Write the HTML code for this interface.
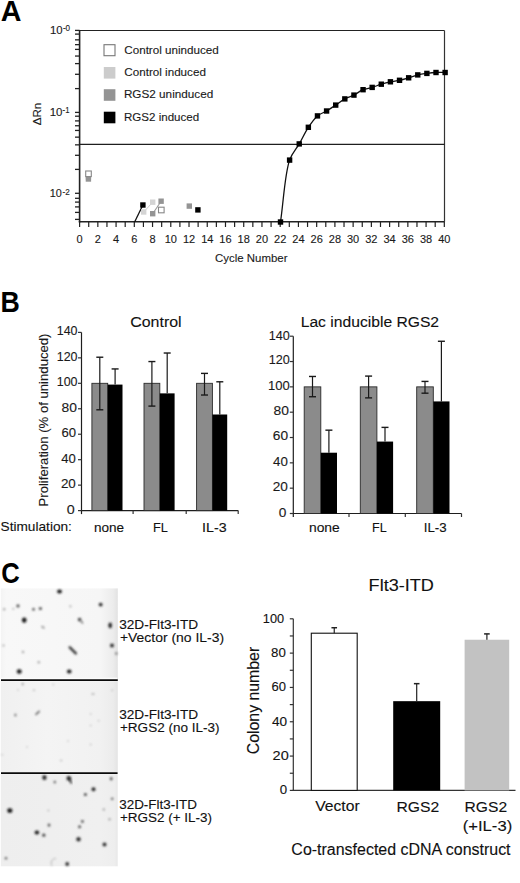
<!DOCTYPE html>
<html><head><meta charset="utf-8"><style>
html,body{margin:0;padding:0;background:#fff;}
svg{display:block;font-family:"Liberation Sans", sans-serif;}
</style></head><body>
<svg width="520" height="883" viewBox="0 0 520 883">
<defs></defs>
<rect width="520" height="883" fill="#fff"/>
<g>
<text x="0.73" y="21.20" font-size="28.8" font-weight="bold" fill="#000" stroke="#000" stroke-width="0" textLength="20.70" lengthAdjust="spacingAndGlyphs">A</text>
<line x1="79.60" y1="30.50" x2="444.50" y2="30.50" stroke="#222" stroke-width="1.0"/>
<line x1="444.50" y1="30.50" x2="444.50" y2="221.80" stroke="#333" stroke-width="1.2"/>
<line x1="79.60" y1="30.00" x2="79.60" y2="222.40" stroke="#222" stroke-width="1.6"/>
<line x1="78.80" y1="221.80" x2="444.50" y2="221.80" stroke="#222" stroke-width="1.5"/>
<line x1="75.00" y1="30.40" x2="79.60" y2="30.40" stroke="#222" stroke-width="1.3"/>
<line x1="75.00" y1="34.10" x2="79.60" y2="34.10" stroke="#222" stroke-width="1.3"/>
<line x1="75.00" y1="39.85" x2="79.60" y2="39.85" stroke="#222" stroke-width="1.3"/>
<line x1="75.00" y1="44.65" x2="79.60" y2="44.65" stroke="#222" stroke-width="1.3"/>
<line x1="75.00" y1="49.40" x2="79.60" y2="49.40" stroke="#222" stroke-width="1.3"/>
<line x1="75.00" y1="56.05" x2="79.60" y2="56.05" stroke="#222" stroke-width="1.3"/>
<line x1="75.00" y1="63.60" x2="79.60" y2="63.60" stroke="#222" stroke-width="1.3"/>
<line x1="75.00" y1="74.30" x2="79.60" y2="74.30" stroke="#222" stroke-width="1.3"/>
<line x1="75.00" y1="88.60" x2="79.60" y2="88.60" stroke="#222" stroke-width="1.3"/>
<line x1="75.00" y1="112.40" x2="79.60" y2="112.40" stroke="#222" stroke-width="1.3"/>
<line x1="75.00" y1="116.20" x2="79.60" y2="116.20" stroke="#222" stroke-width="1.3"/>
<line x1="75.00" y1="120.90" x2="79.60" y2="120.90" stroke="#222" stroke-width="1.3"/>
<line x1="75.00" y1="125.75" x2="79.60" y2="125.75" stroke="#222" stroke-width="1.3"/>
<line x1="75.00" y1="130.45" x2="79.60" y2="130.45" stroke="#222" stroke-width="1.3"/>
<line x1="75.00" y1="137.15" x2="79.60" y2="137.15" stroke="#222" stroke-width="1.3"/>
<line x1="75.00" y1="144.85" x2="79.60" y2="144.85" stroke="#222" stroke-width="1.3"/>
<line x1="75.00" y1="155.30" x2="79.60" y2="155.30" stroke="#222" stroke-width="1.3"/>
<line x1="75.00" y1="169.40" x2="79.60" y2="169.40" stroke="#222" stroke-width="1.3"/>
<line x1="75.00" y1="193.30" x2="79.60" y2="193.30" stroke="#222" stroke-width="1.3"/>
<line x1="75.00" y1="198.30" x2="79.60" y2="198.30" stroke="#222" stroke-width="1.3"/>
<line x1="75.00" y1="202.10" x2="79.60" y2="202.10" stroke="#222" stroke-width="1.3"/>
<line x1="75.00" y1="206.90" x2="79.60" y2="206.90" stroke="#222" stroke-width="1.3"/>
<line x1="75.00" y1="212.40" x2="79.60" y2="212.40" stroke="#222" stroke-width="1.3"/>
<line x1="75.00" y1="219.40" x2="79.60" y2="219.40" stroke="#222" stroke-width="1.3"/>
<line x1="79.60" y1="221.80" x2="79.60" y2="227.00" stroke="#222" stroke-width="1.2"/>
<text x="79.6" y="242.8" font-size="11" text-anchor="middle" font-weight="normal" fill="#1a1a1a" stroke="#1a1a1a" stroke-width="0.12" >0</text>
<line x1="88.72" y1="221.80" x2="88.72" y2="227.00" stroke="#222" stroke-width="1.2"/>
<line x1="97.84" y1="221.80" x2="97.84" y2="227.00" stroke="#222" stroke-width="1.2"/>
<text x="97.836" y="242.8" font-size="11" text-anchor="middle" font-weight="normal" fill="#1a1a1a" stroke="#1a1a1a" stroke-width="0.12" >2</text>
<line x1="106.95" y1="221.80" x2="106.95" y2="227.00" stroke="#222" stroke-width="1.2"/>
<line x1="116.07" y1="221.80" x2="116.07" y2="227.00" stroke="#222" stroke-width="1.2"/>
<text x="116.072" y="242.8" font-size="11" text-anchor="middle" font-weight="normal" fill="#1a1a1a" stroke="#1a1a1a" stroke-width="0.12" >4</text>
<line x1="125.19" y1="221.80" x2="125.19" y2="227.00" stroke="#222" stroke-width="1.2"/>
<line x1="134.31" y1="221.80" x2="134.31" y2="227.00" stroke="#222" stroke-width="1.2"/>
<text x="134.308" y="242.8" font-size="11" text-anchor="middle" font-weight="normal" fill="#1a1a1a" stroke="#1a1a1a" stroke-width="0.12" >6</text>
<line x1="143.43" y1="221.80" x2="143.43" y2="227.00" stroke="#222" stroke-width="1.2"/>
<line x1="152.54" y1="221.80" x2="152.54" y2="227.00" stroke="#222" stroke-width="1.2"/>
<text x="152.54399999999998" y="242.8" font-size="11" text-anchor="middle" font-weight="normal" fill="#1a1a1a" stroke="#1a1a1a" stroke-width="0.12" >8</text>
<line x1="161.66" y1="221.80" x2="161.66" y2="227.00" stroke="#222" stroke-width="1.2"/>
<line x1="170.78" y1="221.80" x2="170.78" y2="227.00" stroke="#222" stroke-width="1.2"/>
<text x="170.78" y="242.8" font-size="11" text-anchor="middle" font-weight="normal" fill="#1a1a1a" stroke="#1a1a1a" stroke-width="0.12" >10</text>
<line x1="179.90" y1="221.80" x2="179.90" y2="227.00" stroke="#222" stroke-width="1.2"/>
<line x1="189.02" y1="221.80" x2="189.02" y2="227.00" stroke="#222" stroke-width="1.2"/>
<text x="189.016" y="242.8" font-size="11" text-anchor="middle" font-weight="normal" fill="#1a1a1a" stroke="#1a1a1a" stroke-width="0.12" >12</text>
<line x1="198.13" y1="221.80" x2="198.13" y2="227.00" stroke="#222" stroke-width="1.2"/>
<line x1="207.25" y1="221.80" x2="207.25" y2="227.00" stroke="#222" stroke-width="1.2"/>
<text x="207.252" y="242.8" font-size="11" text-anchor="middle" font-weight="normal" fill="#1a1a1a" stroke="#1a1a1a" stroke-width="0.12" >14</text>
<line x1="216.37" y1="221.80" x2="216.37" y2="227.00" stroke="#222" stroke-width="1.2"/>
<line x1="225.49" y1="221.80" x2="225.49" y2="227.00" stroke="#222" stroke-width="1.2"/>
<text x="225.488" y="242.8" font-size="11" text-anchor="middle" font-weight="normal" fill="#1a1a1a" stroke="#1a1a1a" stroke-width="0.12" >16</text>
<line x1="234.61" y1="221.80" x2="234.61" y2="227.00" stroke="#222" stroke-width="1.2"/>
<line x1="243.72" y1="221.80" x2="243.72" y2="227.00" stroke="#222" stroke-width="1.2"/>
<text x="243.724" y="242.8" font-size="11" text-anchor="middle" font-weight="normal" fill="#1a1a1a" stroke="#1a1a1a" stroke-width="0.12" >18</text>
<line x1="252.84" y1="221.80" x2="252.84" y2="227.00" stroke="#222" stroke-width="1.2"/>
<line x1="261.96" y1="221.80" x2="261.96" y2="227.00" stroke="#222" stroke-width="1.2"/>
<text x="261.96000000000004" y="242.8" font-size="11" text-anchor="middle" font-weight="normal" fill="#1a1a1a" stroke="#1a1a1a" stroke-width="0.12" >20</text>
<line x1="271.08" y1="221.80" x2="271.08" y2="227.00" stroke="#222" stroke-width="1.2"/>
<line x1="280.20" y1="221.80" x2="280.20" y2="227.00" stroke="#222" stroke-width="1.2"/>
<text x="280.196" y="242.8" font-size="11" text-anchor="middle" font-weight="normal" fill="#1a1a1a" stroke="#1a1a1a" stroke-width="0.12" >22</text>
<line x1="289.31" y1="221.80" x2="289.31" y2="227.00" stroke="#222" stroke-width="1.2"/>
<line x1="298.43" y1="221.80" x2="298.43" y2="227.00" stroke="#222" stroke-width="1.2"/>
<text x="298.432" y="242.8" font-size="11" text-anchor="middle" font-weight="normal" fill="#1a1a1a" stroke="#1a1a1a" stroke-width="0.12" >24</text>
<line x1="307.55" y1="221.80" x2="307.55" y2="227.00" stroke="#222" stroke-width="1.2"/>
<line x1="316.67" y1="221.80" x2="316.67" y2="227.00" stroke="#222" stroke-width="1.2"/>
<text x="316.668" y="242.8" font-size="11" text-anchor="middle" font-weight="normal" fill="#1a1a1a" stroke="#1a1a1a" stroke-width="0.12" >26</text>
<line x1="325.79" y1="221.80" x2="325.79" y2="227.00" stroke="#222" stroke-width="1.2"/>
<line x1="334.90" y1="221.80" x2="334.90" y2="227.00" stroke="#222" stroke-width="1.2"/>
<text x="334.904" y="242.8" font-size="11" text-anchor="middle" font-weight="normal" fill="#1a1a1a" stroke="#1a1a1a" stroke-width="0.12" >28</text>
<line x1="344.02" y1="221.80" x2="344.02" y2="227.00" stroke="#222" stroke-width="1.2"/>
<line x1="353.14" y1="221.80" x2="353.14" y2="227.00" stroke="#222" stroke-width="1.2"/>
<text x="353.14" y="242.8" font-size="11" text-anchor="middle" font-weight="normal" fill="#1a1a1a" stroke="#1a1a1a" stroke-width="0.12" >30</text>
<line x1="362.26" y1="221.80" x2="362.26" y2="227.00" stroke="#222" stroke-width="1.2"/>
<line x1="371.38" y1="221.80" x2="371.38" y2="227.00" stroke="#222" stroke-width="1.2"/>
<text x="371.376" y="242.8" font-size="11" text-anchor="middle" font-weight="normal" fill="#1a1a1a" stroke="#1a1a1a" stroke-width="0.12" >32</text>
<line x1="380.49" y1="221.80" x2="380.49" y2="227.00" stroke="#222" stroke-width="1.2"/>
<line x1="389.61" y1="221.80" x2="389.61" y2="227.00" stroke="#222" stroke-width="1.2"/>
<text x="389.61199999999997" y="242.8" font-size="11" text-anchor="middle" font-weight="normal" fill="#1a1a1a" stroke="#1a1a1a" stroke-width="0.12" >34</text>
<line x1="398.73" y1="221.80" x2="398.73" y2="227.00" stroke="#222" stroke-width="1.2"/>
<line x1="407.85" y1="221.80" x2="407.85" y2="227.00" stroke="#222" stroke-width="1.2"/>
<text x="407.84799999999996" y="242.8" font-size="11" text-anchor="middle" font-weight="normal" fill="#1a1a1a" stroke="#1a1a1a" stroke-width="0.12" >36</text>
<line x1="416.97" y1="221.80" x2="416.97" y2="227.00" stroke="#222" stroke-width="1.2"/>
<line x1="426.08" y1="221.80" x2="426.08" y2="227.00" stroke="#222" stroke-width="1.2"/>
<text x="426.08400000000006" y="242.8" font-size="11" text-anchor="middle" font-weight="normal" fill="#1a1a1a" stroke="#1a1a1a" stroke-width="0.12" >38</text>
<line x1="435.20" y1="221.80" x2="435.20" y2="227.00" stroke="#222" stroke-width="1.2"/>
<line x1="444.32" y1="221.80" x2="444.32" y2="227.00" stroke="#222" stroke-width="1.2"/>
<text x="444.32000000000005" y="242.8" font-size="11" text-anchor="middle" font-weight="normal" fill="#1a1a1a" stroke="#1a1a1a" stroke-width="0.12" >40</text>
<text x="215.08" y="261.90" font-size="11.6" font-weight="normal" fill="#1a1a1a" stroke="#1a1a1a" stroke-width="0.12" textLength="72.40" lengthAdjust="spacingAndGlyphs">Cycle Number</text>
<text x="50.00" y="34.00" font-size="10.8" font-weight="normal" fill="#1a1a1a" stroke="#1a1a1a" stroke-width="0.12" textLength="12.63" lengthAdjust="spacingAndGlyphs">10</text>
<text x="62.89" y="31.30" font-size="8.5" font-weight="normal" fill="#1a1a1a" stroke="#1a1a1a" stroke-width="0.12" textLength="7.18" lengthAdjust="spacingAndGlyphs">-0</text>
<text x="49.69" y="116.00" font-size="10.8" font-weight="normal" fill="#1a1a1a" stroke="#1a1a1a" stroke-width="0.12" textLength="12.74" lengthAdjust="spacingAndGlyphs">10</text>
<text x="62.60" y="113.00" font-size="8.5" font-weight="normal" fill="#1a1a1a" stroke="#1a1a1a" stroke-width="0.12" textLength="6.93" lengthAdjust="spacingAndGlyphs">-1</text>
<text x="49.74" y="197.30" font-size="10.8" font-weight="normal" fill="#1a1a1a" stroke="#1a1a1a" stroke-width="0.12" textLength="12.07" lengthAdjust="spacingAndGlyphs">10</text>
<text x="62.58" y="195.20" font-size="8.5" font-weight="normal" fill="#1a1a1a" stroke="#1a1a1a" stroke-width="0.12" textLength="7.27" lengthAdjust="spacingAndGlyphs">-2</text>
<text transform="translate(40.90,125.30) rotate(-90)" x="0" y="0" font-size="10.8" font-weight="normal" fill="#1a1a1a" stroke="#1a1a1a" stroke-width="0.12" textLength="22.51" lengthAdjust="spacingAndGlyphs">ΔRn</text>
<line x1="79.60" y1="144.40" x2="444.50" y2="144.40" stroke="#1e1e1e" stroke-width="1.1"/>
<rect x="104.00" y="44.70" width="11.00" height="11.00" fill="#fff" stroke="#777" stroke-width="1.1"/>
<text x="124.27" y="53.90" font-size="11.6" font-weight="normal" fill="#1a1a1a" stroke="#1a1a1a" stroke-width="0.12" textLength="94.56" lengthAdjust="spacingAndGlyphs">Control uninduced</text>
<rect x="103.80" y="67.00" width="11.60" height="11.60" fill="#cccccc" stroke="none" stroke-width="0"/>
<text x="124.27" y="76.30" font-size="11.6" font-weight="normal" fill="#1a1a1a" stroke="#1a1a1a" stroke-width="0.12" textLength="81.64" lengthAdjust="spacingAndGlyphs">Control induced</text>
<rect x="103.80" y="89.20" width="11.60" height="11.60" fill="#949494" stroke="none" stroke-width="0"/>
<text x="123.91" y="98.20" font-size="11.6" font-weight="normal" fill="#1a1a1a" stroke="#1a1a1a" stroke-width="0.12" textLength="89.32" lengthAdjust="spacingAndGlyphs">RGS2 uninduced</text>
<rect x="103.80" y="111.70" width="11.60" height="11.60" fill="#000" stroke="none" stroke-width="0"/>
<text x="123.92" y="121.10" font-size="11.6" font-weight="normal" fill="#1a1a1a" stroke="#1a1a1a" stroke-width="0.12" textLength="75.27" lengthAdjust="spacingAndGlyphs">RGS2 induced</text>
<path d="M280.50,222.00 C283.54,201.37 284.76,173.76 289.61,160.10 C292.27,152.60 296.11,149.36 299.23,143.90 C302.36,138.43 305.09,132.19 308.35,127.30 C311.22,123.01 314.12,118.69 317.47,115.90 C320.29,113.55 323.58,112.77 326.59,111.00 C329.66,109.18 332.68,107.11 335.70,105.10 C338.75,103.08 341.69,100.59 344.82,98.90 C347.78,97.30 350.95,96.60 353.94,95.10 C357.03,93.55 359.92,90.99 363.06,89.70 C366.01,88.48 369.16,88.31 372.18,87.40 C375.24,86.48 378.24,85.14 381.29,84.20 C384.31,83.27 387.36,82.45 390.41,81.80 C393.44,81.15 396.51,80.96 399.53,80.30 C402.59,79.63 405.62,78.70 408.65,77.80 C411.70,76.90 414.70,75.64 417.77,74.90 C420.78,74.18 423.84,73.80 426.88,73.40 C429.92,73.00 432.96,72.65 436.00,72.50 C439.04,72.35 442.08,72.50 445.12,72.50" fill="none" stroke="#111" stroke-width="1.3"/>
<line x1="134.60" y1="222.00" x2="142.90" y2="205.00" stroke="#111" stroke-width="1.3"/>
<line x1="143.70" y1="212.00" x2="152.70" y2="202.20" stroke="#d0d0d0" stroke-width="1.0"/>
<line x1="152.70" y1="213.70" x2="161.10" y2="201.20" stroke="#999" stroke-width="1.1"/>
<rect x="85.70" y="174.30" width="5.40" height="5.40" fill="#d4d4d4" stroke="none" stroke-width="0"/>
<rect x="141.00" y="209.30" width="5.40" height="5.40" fill="#d4d4d4" stroke="none" stroke-width="0"/>
<rect x="150.00" y="199.50" width="5.40" height="5.40" fill="#d4d4d4" stroke="none" stroke-width="0"/>
<rect x="85.70" y="176.30" width="5.40" height="5.40" fill="#949494" stroke="none" stroke-width="0"/>
<rect x="150.00" y="211.00" width="5.40" height="5.40" fill="#949494" stroke="none" stroke-width="0"/>
<rect x="158.40" y="198.50" width="5.40" height="5.40" fill="#949494" stroke="none" stroke-width="0"/>
<rect x="186.60" y="203.40" width="5.40" height="5.40" fill="#949494" stroke="none" stroke-width="0"/>
<rect x="85.70" y="171.00" width="5.60" height="5.60" fill="#fff" stroke="#888" stroke-width="1.1"/>
<rect x="158.50" y="207.20" width="5.60" height="5.60" fill="#fff" stroke="#888" stroke-width="1.1"/>
<rect x="140.20" y="202.30" width="5.40" height="5.40" fill="#000" stroke="none" stroke-width="0"/>
<rect x="195.20" y="207.20" width="5.40" height="5.40" fill="#000" stroke="none" stroke-width="0"/>
<rect x="277.80" y="219.30" width="5.40" height="5.40" fill="#000" stroke="none" stroke-width="0"/>
<rect x="286.91" y="157.40" width="5.40" height="5.40" fill="#000" stroke="none" stroke-width="0"/>
<rect x="296.53" y="141.20" width="5.40" height="5.40" fill="#000" stroke="none" stroke-width="0"/>
<rect x="305.65" y="124.60" width="5.40" height="5.40" fill="#000" stroke="none" stroke-width="0"/>
<rect x="314.77" y="113.20" width="5.40" height="5.40" fill="#000" stroke="none" stroke-width="0"/>
<rect x="323.89" y="108.30" width="5.40" height="5.40" fill="#000" stroke="none" stroke-width="0"/>
<rect x="333.00" y="102.40" width="5.40" height="5.40" fill="#000" stroke="none" stroke-width="0"/>
<rect x="342.12" y="96.20" width="5.40" height="5.40" fill="#000" stroke="none" stroke-width="0"/>
<rect x="351.24" y="92.40" width="5.40" height="5.40" fill="#000" stroke="none" stroke-width="0"/>
<rect x="360.36" y="87.00" width="5.40" height="5.40" fill="#000" stroke="none" stroke-width="0"/>
<rect x="369.48" y="84.70" width="5.40" height="5.40" fill="#000" stroke="none" stroke-width="0"/>
<rect x="378.59" y="81.50" width="5.40" height="5.40" fill="#000" stroke="none" stroke-width="0"/>
<rect x="387.71" y="79.10" width="5.40" height="5.40" fill="#000" stroke="none" stroke-width="0"/>
<rect x="396.83" y="77.60" width="5.40" height="5.40" fill="#000" stroke="none" stroke-width="0"/>
<rect x="405.95" y="75.10" width="5.40" height="5.40" fill="#000" stroke="none" stroke-width="0"/>
<rect x="415.07" y="72.20" width="5.40" height="5.40" fill="#000" stroke="none" stroke-width="0"/>
<rect x="424.18" y="70.70" width="5.40" height="5.40" fill="#000" stroke="none" stroke-width="0"/>
<rect x="433.30" y="69.80" width="5.40" height="5.40" fill="#000" stroke="none" stroke-width="0"/>
<rect x="442.42" y="69.80" width="5.40" height="5.40" fill="#000" stroke="none" stroke-width="0"/>
<text x="0.51" y="311.50" font-size="29.5" font-weight="bold" fill="#000" stroke="#000" stroke-width="0" textLength="19.30" lengthAdjust="spacingAndGlyphs">B</text>
<line x1="81.50" y1="332.40" x2="81.50" y2="514.10" stroke="#1e1e1e" stroke-width="1.2"/>
<line x1="80.90" y1="510.60" x2="238.20" y2="510.60" stroke="#1e1e1e" stroke-width="1.2"/>
<line x1="78.00" y1="510.60" x2="81.50" y2="510.60" stroke="#333" stroke-width="1.2"/>
<line x1="78.00" y1="485.14" x2="81.50" y2="485.14" stroke="#333" stroke-width="1.2"/>
<line x1="78.00" y1="459.69" x2="81.50" y2="459.69" stroke="#333" stroke-width="1.2"/>
<line x1="78.00" y1="434.23" x2="81.50" y2="434.23" stroke="#333" stroke-width="1.2"/>
<line x1="78.00" y1="408.77" x2="81.50" y2="408.77" stroke="#333" stroke-width="1.2"/>
<line x1="78.00" y1="383.31" x2="81.50" y2="383.31" stroke="#333" stroke-width="1.2"/>
<line x1="78.00" y1="357.86" x2="81.50" y2="357.86" stroke="#333" stroke-width="1.2"/>
<line x1="78.00" y1="332.40" x2="81.50" y2="332.40" stroke="#333" stroke-width="1.2"/>
<text x="56.72" y="335.30" font-size="13.5" font-weight="normal" fill="#1a1a1a" stroke="#1a1a1a" stroke-width="0.12" textLength="20.78" lengthAdjust="spacingAndGlyphs">140</text>
<text x="56.72" y="360.50" font-size="13.5" font-weight="normal" fill="#1a1a1a" stroke="#1a1a1a" stroke-width="0.12" textLength="20.78" lengthAdjust="spacingAndGlyphs">120</text>
<text x="56.72" y="386.20" font-size="13.5" font-weight="normal" fill="#1a1a1a" stroke="#1a1a1a" stroke-width="0.12" textLength="20.78" lengthAdjust="spacingAndGlyphs">100</text>
<text x="61.53" y="411.70" font-size="13.5" font-weight="normal" fill="#1a1a1a" stroke="#1a1a1a" stroke-width="0.12" textLength="15.41" lengthAdjust="spacingAndGlyphs">80</text>
<text x="61.49" y="437.10" font-size="13.5" font-weight="normal" fill="#1a1a1a" stroke="#1a1a1a" stroke-width="0.12" textLength="14.61" lengthAdjust="spacingAndGlyphs">60</text>
<text x="61.22" y="462.50" font-size="13.5" font-weight="normal" fill="#1a1a1a" stroke="#1a1a1a" stroke-width="0.12" textLength="14.58" lengthAdjust="spacingAndGlyphs">40</text>
<text x="60.88" y="488.00" font-size="13.5" font-weight="normal" fill="#1a1a1a" stroke="#1a1a1a" stroke-width="0.12" textLength="14.94" lengthAdjust="spacingAndGlyphs">20</text>
<text x="66.68" y="513.50" font-size="13.5" font-weight="normal" fill="#1a1a1a" stroke="#1a1a1a" stroke-width="0.12" textLength="7.96" lengthAdjust="spacingAndGlyphs">0</text>
<line x1="133.10" y1="510.60" x2="133.10" y2="514.10" stroke="#333" stroke-width="1.2"/>
<line x1="186.20" y1="510.60" x2="186.20" y2="514.10" stroke="#333" stroke-width="1.2"/>
<line x1="238.20" y1="510.60" x2="238.20" y2="514.10" stroke="#333" stroke-width="1.2"/>
<rect x="91.90" y="383.31" width="15.80" height="127.29" fill="#8b8b8b" stroke="#2a2a2a" stroke-width="0.9"/>
<rect x="107.70" y="384.59" width="14.80" height="126.01" fill="#000" stroke="none" stroke-width="0"/>
<line x1="99.80" y1="357.22" x2="99.80" y2="409.79" stroke="#1a1a1a" stroke-width="1.2"/>
<line x1="96.30" y1="357.22" x2="103.30" y2="357.22" stroke="#1a1a1a" stroke-width="1.4"/>
<line x1="96.30" y1="409.79" x2="103.30" y2="409.79" stroke="#1a1a1a" stroke-width="1.4"/>
<line x1="115.10" y1="368.93" x2="115.10" y2="384.59" stroke="#1a1a1a" stroke-width="1.2"/>
<line x1="111.60" y1="368.93" x2="118.60" y2="368.93" stroke="#1a1a1a" stroke-width="1.4"/>
<rect x="144.00" y="383.31" width="15.80" height="127.29" fill="#8b8b8b" stroke="#2a2a2a" stroke-width="0.9"/>
<rect x="159.80" y="393.37" width="14.80" height="117.23" fill="#000" stroke="none" stroke-width="0"/>
<line x1="151.90" y1="361.55" x2="151.90" y2="406.10" stroke="#1a1a1a" stroke-width="1.2"/>
<line x1="148.40" y1="361.55" x2="155.40" y2="361.55" stroke="#1a1a1a" stroke-width="1.4"/>
<line x1="148.40" y1="406.10" x2="155.40" y2="406.10" stroke="#1a1a1a" stroke-width="1.4"/>
<line x1="167.20" y1="353.02" x2="167.20" y2="393.37" stroke="#1a1a1a" stroke-width="1.2"/>
<line x1="163.70" y1="353.02" x2="170.70" y2="353.02" stroke="#1a1a1a" stroke-width="1.4"/>
<rect x="196.60" y="383.31" width="15.80" height="127.29" fill="#8b8b8b" stroke="#2a2a2a" stroke-width="0.9"/>
<rect x="212.40" y="414.50" width="14.80" height="96.10" fill="#000" stroke="none" stroke-width="0"/>
<line x1="204.50" y1="373.39" x2="204.50" y2="395.02" stroke="#1a1a1a" stroke-width="1.2"/>
<line x1="201.00" y1="373.39" x2="208.00" y2="373.39" stroke="#1a1a1a" stroke-width="1.4"/>
<line x1="201.00" y1="395.02" x2="208.00" y2="395.02" stroke="#1a1a1a" stroke-width="1.4"/>
<line x1="219.80" y1="381.79" x2="219.80" y2="414.50" stroke="#1a1a1a" stroke-width="1.2"/>
<line x1="216.30" y1="381.79" x2="223.30" y2="381.79" stroke="#1a1a1a" stroke-width="1.4"/>
<line x1="293.30" y1="336.20" x2="293.30" y2="517.00" stroke="#1e1e1e" stroke-width="1.2"/>
<line x1="292.70" y1="513.50" x2="461.50" y2="513.50" stroke="#1e1e1e" stroke-width="1.2"/>
<line x1="289.80" y1="513.50" x2="293.30" y2="513.50" stroke="#333" stroke-width="1.2"/>
<line x1="289.80" y1="488.17" x2="293.30" y2="488.17" stroke="#333" stroke-width="1.2"/>
<line x1="289.80" y1="462.84" x2="293.30" y2="462.84" stroke="#333" stroke-width="1.2"/>
<line x1="289.80" y1="437.51" x2="293.30" y2="437.51" stroke="#333" stroke-width="1.2"/>
<line x1="289.80" y1="412.19" x2="293.30" y2="412.19" stroke="#333" stroke-width="1.2"/>
<line x1="289.80" y1="386.86" x2="293.30" y2="386.86" stroke="#333" stroke-width="1.2"/>
<line x1="289.80" y1="361.53" x2="293.30" y2="361.53" stroke="#333" stroke-width="1.2"/>
<line x1="289.80" y1="336.20" x2="293.30" y2="336.20" stroke="#333" stroke-width="1.2"/>
<text x="268.70" y="339.70" font-size="13.5" font-weight="normal" fill="#1a1a1a" stroke="#1a1a1a" stroke-width="0.12" textLength="21.10" lengthAdjust="spacingAndGlyphs">140</text>
<text x="268.70" y="364.00" font-size="13.5" font-weight="normal" fill="#1a1a1a" stroke="#1a1a1a" stroke-width="0.12" textLength="21.10" lengthAdjust="spacingAndGlyphs">120</text>
<text x="268.07" y="389.50" font-size="13.5" font-weight="normal" fill="#1a1a1a" stroke="#1a1a1a" stroke-width="0.12" textLength="21.74" lengthAdjust="spacingAndGlyphs">100</text>
<text x="273.53" y="415.00" font-size="13.5" font-weight="normal" fill="#1a1a1a" stroke="#1a1a1a" stroke-width="0.12" textLength="15.41" lengthAdjust="spacingAndGlyphs">80</text>
<text x="272.86" y="440.40" font-size="13.5" font-weight="normal" fill="#1a1a1a" stroke="#1a1a1a" stroke-width="0.12" textLength="15.27" lengthAdjust="spacingAndGlyphs">60</text>
<text x="273.02" y="465.80" font-size="13.5" font-weight="normal" fill="#1a1a1a" stroke="#1a1a1a" stroke-width="0.12" textLength="14.80" lengthAdjust="spacingAndGlyphs">40</text>
<text x="272.67" y="491.30" font-size="13.5" font-weight="normal" fill="#1a1a1a" stroke="#1a1a1a" stroke-width="0.12" textLength="15.16" lengthAdjust="spacingAndGlyphs">20</text>
<text x="278.70" y="516.80" font-size="13.5" font-weight="normal" fill="#1a1a1a" stroke="#1a1a1a" stroke-width="0.12" textLength="7.61" lengthAdjust="spacingAndGlyphs">0</text>
<line x1="349.00" y1="513.50" x2="349.00" y2="517.00" stroke="#333" stroke-width="1.2"/>
<line x1="405.30" y1="513.50" x2="405.30" y2="517.00" stroke="#333" stroke-width="1.2"/>
<line x1="461.50" y1="513.50" x2="461.50" y2="517.00" stroke="#333" stroke-width="1.2"/>
<rect x="304.20" y="386.86" width="16.60" height="126.64" fill="#8b8b8b" stroke="#2a2a2a" stroke-width="0.9"/>
<rect x="320.80" y="452.71" width="16.20" height="60.79" fill="#000" stroke="none" stroke-width="0"/>
<line x1="312.50" y1="376.47" x2="312.50" y2="396.74" stroke="#1a1a1a" stroke-width="1.2"/>
<line x1="309.00" y1="376.47" x2="316.00" y2="376.47" stroke="#1a1a1a" stroke-width="1.4"/>
<line x1="309.00" y1="396.74" x2="316.00" y2="396.74" stroke="#1a1a1a" stroke-width="1.4"/>
<line x1="328.90" y1="430.17" x2="328.90" y2="452.71" stroke="#1a1a1a" stroke-width="1.2"/>
<line x1="325.40" y1="430.17" x2="332.40" y2="430.17" stroke="#1a1a1a" stroke-width="1.4"/>
<rect x="360.30" y="386.86" width="16.60" height="126.64" fill="#8b8b8b" stroke="#2a2a2a" stroke-width="0.9"/>
<rect x="376.90" y="441.57" width="16.20" height="71.93" fill="#000" stroke="none" stroke-width="0"/>
<line x1="368.60" y1="376.09" x2="368.60" y2="397.88" stroke="#1a1a1a" stroke-width="1.2"/>
<line x1="365.10" y1="376.09" x2="372.10" y2="376.09" stroke="#1a1a1a" stroke-width="1.4"/>
<line x1="365.10" y1="397.88" x2="372.10" y2="397.88" stroke="#1a1a1a" stroke-width="1.4"/>
<line x1="385.00" y1="427.38" x2="385.00" y2="441.57" stroke="#1a1a1a" stroke-width="1.2"/>
<line x1="381.50" y1="427.38" x2="388.50" y2="427.38" stroke="#1a1a1a" stroke-width="1.4"/>
<rect x="416.70" y="386.86" width="16.60" height="126.64" fill="#8b8b8b" stroke="#2a2a2a" stroke-width="0.9"/>
<rect x="433.30" y="401.42" width="16.20" height="112.08" fill="#000" stroke="none" stroke-width="0"/>
<line x1="425.00" y1="381.41" x2="425.00" y2="393.19" stroke="#1a1a1a" stroke-width="1.2"/>
<line x1="421.50" y1="381.41" x2="428.50" y2="381.41" stroke="#1a1a1a" stroke-width="1.4"/>
<line x1="421.50" y1="393.19" x2="428.50" y2="393.19" stroke="#1a1a1a" stroke-width="1.4"/>
<line x1="441.40" y1="341.27" x2="441.40" y2="401.42" stroke="#1a1a1a" stroke-width="1.2"/>
<line x1="437.90" y1="341.27" x2="444.90" y2="341.27" stroke="#1a1a1a" stroke-width="1.4"/>
<text x="130.25" y="326.50" font-size="15.4" font-weight="normal" fill="#111" stroke="#111" stroke-width="0.12" textLength="51.39" lengthAdjust="spacingAndGlyphs">Control</text>
<text x="300.70" y="326.90" font-size="15.4" font-weight="normal" fill="#111" stroke="#111" stroke-width="0.12" textLength="138.39" lengthAdjust="spacingAndGlyphs">Lac inducible RGS2</text>
<text transform="translate(48.40,506.50) rotate(-90)" x="0" y="0" font-size="13.2" font-weight="normal" fill="#1a1a1a" stroke="#1a1a1a" stroke-width="0.12" textLength="172.99" lengthAdjust="spacingAndGlyphs">Proliferation (% of uninduced)</text>
<text x="0.53" y="531.40" font-size="13.4" font-weight="normal" fill="#111" stroke="#111" stroke-width="0.12" textLength="71.41" lengthAdjust="spacingAndGlyphs">Stimulation:</text>
<text x="93.97" y="532.30" font-size="13.4" font-weight="normal" fill="#111" stroke="#111" stroke-width="0.12" textLength="30.19" lengthAdjust="spacingAndGlyphs">none</text>
<text x="153.03" y="532.30" font-size="13.4" font-weight="normal" fill="#111" stroke="#111" stroke-width="0.12" textLength="14.93" lengthAdjust="spacingAndGlyphs">FL</text>
<text x="202.07" y="532.30" font-size="13.4" font-weight="normal" fill="#111" stroke="#111" stroke-width="0.12" textLength="24.57" lengthAdjust="spacingAndGlyphs">IL-3</text>
<text x="308.95" y="532.30" font-size="13.4" font-weight="normal" fill="#111" stroke="#111" stroke-width="0.12" textLength="30.82" lengthAdjust="spacingAndGlyphs">none</text>
<text x="372.04" y="532.30" font-size="13.4" font-weight="normal" fill="#111" stroke="#111" stroke-width="0.12" textLength="14.71" lengthAdjust="spacingAndGlyphs">FL</text>
<text x="423.75" y="532.30" font-size="13.4" font-weight="normal" fill="#111" stroke="#111" stroke-width="0.12" textLength="22.94" lengthAdjust="spacingAndGlyphs">IL-3</text>
<text x="1.22" y="582.50" font-size="29.2" font-weight="bold" fill="#000" stroke="#000" stroke-width="0" textLength="18.52" lengthAdjust="spacingAndGlyphs">C</text>
<defs>
<linearGradient id="pg1" x1="0" x2="1" y1="0" y2="0">
<stop offset="0" stop-color="#f4f4f4"/><stop offset="0.05" stop-color="#f8f8f8"/><stop offset="0.85" stop-color="#f6f6f6"/><stop offset="0.96" stop-color="#ececec"/><stop offset="1" stop-color="#e2e2e2"/>
</linearGradient>
<linearGradient id="pg2" x1="0" x2="1" y1="0" y2="0">
<stop offset="0" stop-color="#f0f0f0"/><stop offset="0.4" stop-color="#f4f4f4"/><stop offset="0.85" stop-color="#f1f1f1"/><stop offset="0.96" stop-color="#ececec"/><stop offset="1" stop-color="#e4e4e4"/>
</linearGradient>
<linearGradient id="pg3" x1="0" x2="1" y1="0" y2="0">
<stop offset="0" stop-color="#eeeeee"/><stop offset="0.85" stop-color="#f0f0f0"/><stop offset="0.97" stop-color="#eeeeee"/><stop offset="1" stop-color="#e8e8e8"/>
</linearGradient>
<filter id="bl" x="-80%" y="-80%" width="260%" height="260%"><feGaussianBlur stdDeviation="0.85"/></filter>
</defs>
<rect x="0.80" y="588.40" width="117.00" height="90.80" fill="url(#pg1)" stroke="none" stroke-width="0"/>
<rect x="0.80" y="681.20" width="117.00" height="91.00" fill="url(#pg2)" stroke="none" stroke-width="0"/>
<rect x="0.80" y="774.10" width="116.90" height="92.20" fill="url(#pg3)" stroke="none" stroke-width="0"/>
<rect x="1.00" y="677.60" width="116.00" height="1.60" fill="#fbfbfb" stroke="none" stroke-width="0"/>
<ellipse cx="59.5" cy="591.4" rx="2.5" ry="2.0" fill="#1e1e1e" filter="url(#bl)"/>
<ellipse cx="18" cy="605.9" rx="1.6" ry="1.6" fill="#555" filter="url(#bl)"/>
<ellipse cx="33.5" cy="609.2" rx="1.5" ry="1.5" fill="#666" filter="url(#bl)"/>
<ellipse cx="40.4" cy="608.5" rx="1.6" ry="1.6" fill="#555" filter="url(#bl)"/>
<ellipse cx="100.7" cy="604.6" rx="1.9" ry="1.9" fill="#2a2a2a" filter="url(#bl)"/>
<ellipse cx="24.2" cy="620.1" rx="2.3" ry="2.7" fill="#1e1e1e" filter="url(#bl)"/>
<ellipse cx="79.6" cy="619.6" rx="1.8" ry="1.8" fill="#444" filter="url(#bl)"/>
<ellipse cx="110.2" cy="625.3" rx="1.8" ry="2.9" fill="#2a2a2a" filter="url(#bl)"/>
<ellipse cx="112" cy="645.5" rx="1.9" ry="2.0" fill="#2a2a2a" filter="url(#bl)"/>
<ellipse cx="19.2" cy="671.5" rx="2.5" ry="2.3" fill="#1e1e1e" filter="url(#bl)"/>
<ellipse cx="69.2" cy="671.5" rx="2.3" ry="2.1" fill="#1e1e1e" filter="url(#bl)"/>
<ellipse cx="23" cy="652" rx="1.3" ry="1.3" fill="#aaa" filter="url(#bl)"/>
<ellipse cx="38.8" cy="662.3" rx="1.3" ry="1.3" fill="#aaa" filter="url(#bl)"/>
<ellipse cx="4.2" cy="609.2" rx="1.2" ry="1.2" fill="#aaa" filter="url(#bl)"/>
<ellipse cx="13.3" cy="608.8" rx="1.1" ry="1.1" fill="#bbb" filter="url(#bl)"/>
<ellipse cx="3.5" cy="645.5" rx="1.2" ry="1.2" fill="#bbb" filter="url(#bl)"/>
<ellipse cx="70.4" cy="606.2" rx="1.2" ry="1.2" fill="#c0c0c0" filter="url(#bl)"/>
<ellipse cx="116.3" cy="653.5" rx="1.2" ry="1.8" fill="#888" filter="url(#bl)"/>
<ellipse cx="43" cy="627.2" rx="1.4" ry="1.0" fill="#bbb" filter="url(#bl)"/>
<path d="M69.8,647.3 L75.8,653.3" stroke="#3a3a3a" stroke-width="2.6" stroke-linecap="round" filter="url(#bl)"/>
<path d="M80.5,620.5 L83,623.5" stroke="#777" stroke-width="1.5" filter="url(#bl)"/>
<path d="M41.5,626 L44.5,628.5" stroke="#aaa" stroke-width="1.5" filter="url(#bl)"/>
<path d="M36,714.3 L39.2,711.3" stroke="#666" stroke-width="1.6" stroke-linecap="round" filter="url(#bl)"/>
<ellipse cx="15.4" cy="715.1" rx="1.1" ry="1.5" fill="#777" filter="url(#bl)"/>
<ellipse cx="22.7" cy="684.1" rx="1.0" ry="1.3" fill="#999" filter="url(#bl)"/>
<ellipse cx="34" cy="690.2" rx="1.2" ry="1.0" fill="#c0c0c0" filter="url(#bl)"/>
<ellipse cx="18" cy="690" rx="1.0" ry="1.0" fill="#ccc" filter="url(#bl)"/>
<ellipse cx="53.3" cy="684.5" rx="1.0" ry="1.0" fill="#ccc" filter="url(#bl)"/>
<ellipse cx="93" cy="694" rx="1.8" ry="0.9" fill="#bbb" filter="url(#bl)"/>
<ellipse cx="112.2" cy="690.2" rx="1.0" ry="1.0" fill="#c4c4c4" filter="url(#bl)"/>
<ellipse cx="90.7" cy="714" rx="1.0" ry="1.0" fill="#ccc" filter="url(#bl)"/>
<ellipse cx="98.6" cy="720.8" rx="1.0" ry="1.0" fill="#c8c8c8" filter="url(#bl)"/>
<ellipse cx="90.7" cy="725.4" rx="1.0" ry="1.0" fill="#ccc" filter="url(#bl)"/>
<ellipse cx="61.2" cy="760.5" rx="1.3" ry="1.0" fill="#c4c4c4" filter="url(#bl)"/>
<ellipse cx="90.7" cy="744.6" rx="1.0" ry="1.0" fill="#c8c8c8" filter="url(#bl)"/>
<ellipse cx="2.3" cy="754.8" rx="1.0" ry="1.0" fill="#ccc" filter="url(#bl)"/>
<ellipse cx="68" cy="741" rx="1.0" ry="1.0" fill="#d0d0d0" filter="url(#bl)"/>
<ellipse cx="27" cy="747" rx="1.0" ry="1.0" fill="#d0d0d0" filter="url(#bl)"/>
<ellipse cx="44.4" cy="777.5" rx="2.2" ry="2.6" fill="#2a2a2a" filter="url(#bl)"/>
<ellipse cx="68.8" cy="778.4" rx="2.3" ry="2.3" fill="#2a2a2a" filter="url(#bl)"/>
<ellipse cx="54.8" cy="782.1" rx="1.3" ry="1.3" fill="#666" filter="url(#bl)"/>
<ellipse cx="93.5" cy="789.2" rx="2.0" ry="2.0" fill="#2a2a2a" filter="url(#bl)"/>
<ellipse cx="85.4" cy="794.5" rx="1.5" ry="1.5" fill="#4a4a4a" filter="url(#bl)"/>
<ellipse cx="111.2" cy="778.8" rx="1.4" ry="1.7" fill="#555" filter="url(#bl)"/>
<ellipse cx="9.8" cy="810.6" rx="2.6" ry="2.4" fill="#1e1e1e" filter="url(#bl)"/>
<ellipse cx="112.2" cy="798.8" rx="1.4" ry="1.4" fill="#777" filter="url(#bl)"/>
<ellipse cx="103.8" cy="809.5" rx="1.2" ry="1.2" fill="#aaa" filter="url(#bl)"/>
<ellipse cx="109.6" cy="819.3" rx="1.2" ry="1.2" fill="#aaa" filter="url(#bl)"/>
<ellipse cx="82.4" cy="821.5" rx="1.4" ry="1.4" fill="#555" filter="url(#bl)"/>
<ellipse cx="79.6" cy="826.8" rx="1.5" ry="1.5" fill="#555" filter="url(#bl)"/>
<ellipse cx="49" cy="825.1" rx="1.4" ry="1.6" fill="#555" filter="url(#bl)"/>
<ellipse cx="36.9" cy="832.5" rx="2.3" ry="2.1" fill="#1e1e1e" filter="url(#bl)"/>
<ellipse cx="43.8" cy="835.2" rx="1.6" ry="1.6" fill="#444" filter="url(#bl)"/>
<ellipse cx="78.5" cy="839.3" rx="2.2" ry="2.2" fill="#333" filter="url(#bl)"/>
<ellipse cx="104.5" cy="844.4" rx="2.0" ry="2.0" fill="#333" filter="url(#bl)"/>
<ellipse cx="67.2" cy="864.0" rx="1.9" ry="1.9" fill="#333" filter="url(#bl)"/>
<ellipse cx="6.0" cy="858.3" rx="1.3" ry="1.3" fill="#666" filter="url(#bl)"/>
<ellipse cx="48.4" cy="810.4" rx="1.0" ry="1.0" fill="#bbb" filter="url(#bl)"/>
<path d="M69.5,779 L71.2,782.8" stroke="#333" stroke-width="1.8" stroke-linecap="round" filter="url(#bl)"/>
<path d="M52,866 C50,862 52,858.5 56,858.5" stroke="#aaa" stroke-width="0.9" fill="none" filter="url(#bl)"/>
<line x1="1.00" y1="680.20" x2="117.80" y2="680.20" stroke="#0a0a0a" stroke-width="1.8"/>
<line x1="1.00" y1="773.10" x2="117.60" y2="773.10" stroke="#0a0a0a" stroke-width="1.8"/>
<text x="119.20" y="628.90" font-size="13.4" font-weight="normal" fill="#111" stroke="#111" stroke-width="0.12" textLength="78.91" lengthAdjust="spacingAndGlyphs">32D-Flt3-ITD</text>
<text x="119.95" y="642.40" font-size="13.4" font-weight="normal" fill="#111" stroke="#111" stroke-width="0.12" textLength="104.15" lengthAdjust="spacingAndGlyphs">+Vector (no IL-3)</text>
<text x="119.20" y="718.90" font-size="13.4" font-weight="normal" fill="#111" stroke="#111" stroke-width="0.12" textLength="78.91" lengthAdjust="spacingAndGlyphs">32D-Flt3-ITD</text>
<text x="119.97" y="732.40" font-size="13.4" font-weight="normal" fill="#111" stroke="#111" stroke-width="0.12" textLength="99.55" lengthAdjust="spacingAndGlyphs">+RGS2 (no IL-3)</text>
<text x="119.21" y="808.50" font-size="13.4" font-weight="normal" fill="#111" stroke="#111" stroke-width="0.12" textLength="77.69" lengthAdjust="spacingAndGlyphs">32D-Flt3-ITD</text>
<text x="119.98" y="822.00" font-size="13.4" font-weight="normal" fill="#111" stroke="#111" stroke-width="0.12" textLength="92.10" lengthAdjust="spacingAndGlyphs">+RGS2 (+ IL-3)</text>
<line x1="293.30" y1="618.80" x2="293.30" y2="791.00" stroke="#333" stroke-width="1.2"/>
<line x1="292.70" y1="790.40" x2="515.50" y2="790.40" stroke="#333" stroke-width="1.2"/>
<line x1="289.80" y1="790.40" x2="293.30" y2="790.40" stroke="#333" stroke-width="1.2"/>
<line x1="289.80" y1="773.24" x2="293.30" y2="773.24" stroke="#333" stroke-width="1.2"/>
<line x1="289.80" y1="756.08" x2="293.30" y2="756.08" stroke="#333" stroke-width="1.2"/>
<line x1="289.80" y1="738.92" x2="293.30" y2="738.92" stroke="#333" stroke-width="1.2"/>
<line x1="289.80" y1="721.76" x2="293.30" y2="721.76" stroke="#333" stroke-width="1.2"/>
<line x1="289.80" y1="704.60" x2="293.30" y2="704.60" stroke="#333" stroke-width="1.2"/>
<line x1="289.80" y1="687.44" x2="293.30" y2="687.44" stroke="#333" stroke-width="1.2"/>
<line x1="289.80" y1="670.28" x2="293.30" y2="670.28" stroke="#333" stroke-width="1.2"/>
<line x1="289.80" y1="653.12" x2="293.30" y2="653.12" stroke="#333" stroke-width="1.2"/>
<line x1="289.80" y1="635.96" x2="293.30" y2="635.96" stroke="#333" stroke-width="1.2"/>
<line x1="289.80" y1="618.80" x2="293.30" y2="618.80" stroke="#333" stroke-width="1.2"/>
<text x="262.79" y="622.60" font-size="13.4" font-weight="normal" fill="#111" stroke="#111" stroke-width="0.12" textLength="21.31" lengthAdjust="spacingAndGlyphs">100</text>
<text x="271.05" y="657.10" font-size="13.4" font-weight="normal" fill="#111" stroke="#111" stroke-width="0.12" textLength="14.76" lengthAdjust="spacingAndGlyphs">80</text>
<text x="271.60" y="691.10" font-size="13.4" font-weight="normal" fill="#111" stroke="#111" stroke-width="0.12" textLength="14.50" lengthAdjust="spacingAndGlyphs">60</text>
<text x="271.91" y="725.70" font-size="13.4" font-weight="normal" fill="#111" stroke="#111" stroke-width="0.12" textLength="15.12" lengthAdjust="spacingAndGlyphs">40</text>
<text x="272.62" y="760.30" font-size="13.4" font-weight="normal" fill="#111" stroke="#111" stroke-width="0.12" textLength="16.14" lengthAdjust="spacingAndGlyphs">20</text>
<text x="279.82" y="794.00" font-size="13.4" font-weight="normal" fill="#111" stroke="#111" stroke-width="0.12" textLength="7.38" lengthAdjust="spacingAndGlyphs">0</text>
<rect x="311.30" y="633.21" width="45.90" height="157.19" fill="#fff" stroke="#111" stroke-width="1.1"/>
<line x1="334.25" y1="627.72" x2="334.25" y2="633.21" stroke="#222" stroke-width="1.2"/>
<line x1="331.45" y1="627.72" x2="337.05" y2="627.72" stroke="#222" stroke-width="1.5"/>
<rect x="393.20" y="701.17" width="47.00" height="89.23" fill="#000" stroke="none" stroke-width="0"/>
<line x1="416.70" y1="683.66" x2="416.70" y2="701.17" stroke="#222" stroke-width="1.2"/>
<line x1="413.90" y1="683.66" x2="419.50" y2="683.66" stroke="#222" stroke-width="1.5"/>
<rect x="464.60" y="639.74" width="44.60" height="150.66" fill="#c2c2c2" stroke="none" stroke-width="0"/>
<line x1="486.90" y1="633.90" x2="486.90" y2="639.74" stroke="#222" stroke-width="1.2"/>
<line x1="484.10" y1="633.90" x2="489.70" y2="633.90" stroke="#222" stroke-width="1.5"/>
<text x="368.60" y="591.20" font-size="16.3" font-weight="normal" fill="#111" stroke="#111" stroke-width="0.12" textLength="65.28" lengthAdjust="spacingAndGlyphs">Flt3-ITD</text>
<text transform="translate(258.50,754.24) rotate(-90)" x="0" y="0" font-size="15.8" font-weight="normal" fill="#111" stroke="#111" stroke-width="0.12" textLength="107.45" lengthAdjust="spacingAndGlyphs">Colony number</text>
<text x="315.17" y="811.00" font-size="15.4" font-weight="normal" fill="#111" stroke="#111" stroke-width="0.12" textLength="44.49" lengthAdjust="spacingAndGlyphs">Vector</text>
<text x="396.49" y="812.30" font-size="15.4" font-weight="normal" fill="#111" stroke="#111" stroke-width="0.12" textLength="42.79" lengthAdjust="spacingAndGlyphs">RGS2</text>
<text x="464.60" y="812.30" font-size="15.4" font-weight="normal" fill="#111" stroke="#111" stroke-width="0.12" textLength="42.48" lengthAdjust="spacingAndGlyphs">RGS2</text>
<text x="462.75" y="831.30" font-size="15.4" font-weight="normal" fill="#111" stroke="#111" stroke-width="0.12" textLength="49.45" lengthAdjust="spacingAndGlyphs">(+IL-3)</text>
<text x="291.35" y="855.30" font-size="15.6" font-weight="normal" fill="#111" stroke="#111" stroke-width="0.12" textLength="219.22" lengthAdjust="spacingAndGlyphs">Co-transfected cDNA construct</text>
</g>
</svg>
</body></html>
